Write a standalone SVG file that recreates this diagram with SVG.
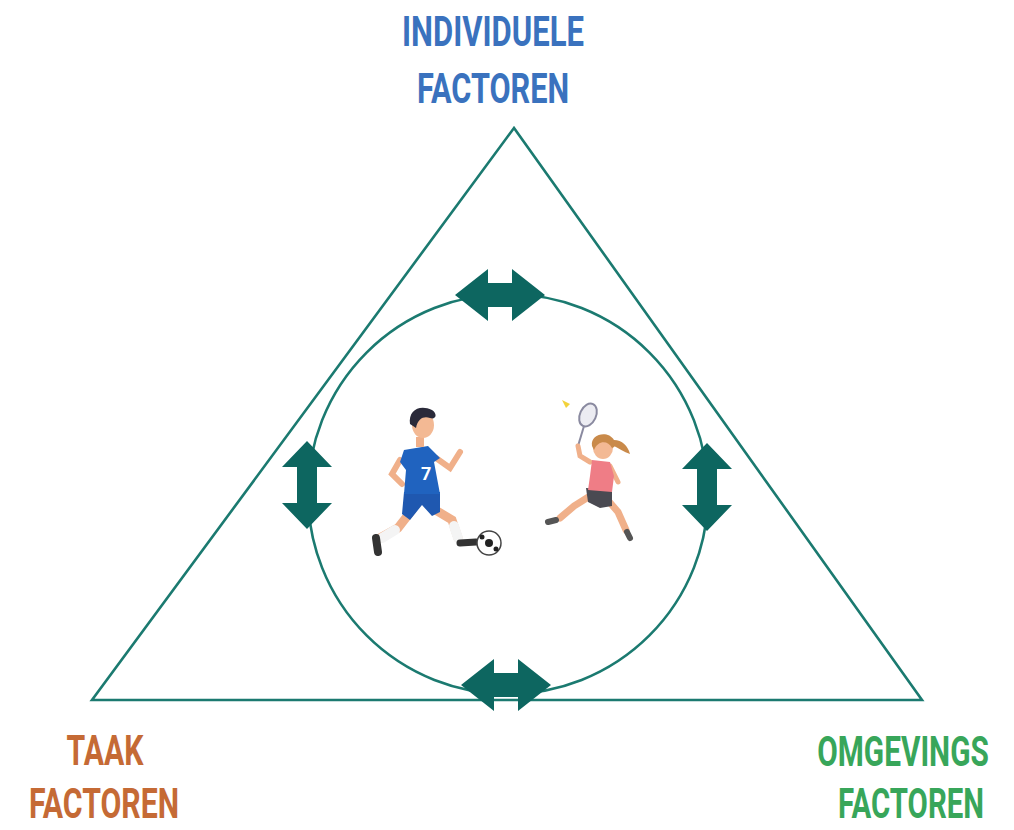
<svg xmlns="http://www.w3.org/2000/svg" width="1014" height="830" viewBox="0 0 1014 830">
  <style>
    .lbl { font-family: Roboto, "Liberation Sans", sans-serif; font-weight: bold; font-size: 42px; text-anchor: middle; }
    .line { fill: none; stroke: #1b7a70; stroke-width: 2.6; }
    .arrow { fill: #0d6660; }
  </style>
  <defs>
    <!-- horizontal double arrow centred on origin -->
    <path id="dblH" d="M-45,0 L-12,-26 L-12,-12 L12,-12 L12,-26 L45,0 L12,26 L12,12 L-12,12 L-12,26 Z"/>
    <!-- vertical double arrow centred on origin -->
    <path id="dblV" d="M0,-44 L25,-18 L10,-18 L10,18 L25,18 L0,44 L-25,18 L-10,18 L-10,-18 L-25,-18 Z"/>
  </defs>
  <rect width="1014" height="830" fill="#ffffff"/>

  <g id="connectors">
    <polygon class="line" points="514,128 92,700 922,700"/>
    <circle class="line" cx="508" cy="494" r="200"/>
    <use href="#dblH" class="arrow" x="500" y="295"/>
    <use href="#dblH" class="arrow" x="506" y="685"/>
    <use href="#dblV" class="arrow" x="307" y="485"/>
    <use href="#dblV" class="arrow" x="707" y="487"/>
  </g>

  <!-- labels use a horizontally condensed bold face -->
  <g id="individuele" fill="#3a72be">
    <text class="lbl" transform="translate(493,46) scale(0.74,1)">INDIVIDUELE</text>
    <text class="lbl" transform="translate(493,103) scale(0.73,1)">FACTOREN</text>
  </g>
  <g id="taak" fill="#c56a35">
    <text class="lbl" transform="translate(105,765) scale(0.72,1)">TAAK</text>
    <text class="lbl" transform="translate(104,818) scale(0.72,1)">FACTOREN</text>
  </g>
  <g id="omgevings" fill="#38a65a">
    <text class="lbl" transform="translate(903,766) scale(0.71,1)">OMGEVINGS</text>
    <text class="lbl" transform="translate(911,818) scale(0.70,1)">FACTOREN</text>
  </g>

  <!-- football player -->
  <g id="voetballer">
    <!-- back leg -->
    <path d="M412,510 L398,528 L380,538" fill="none" stroke="#f0b08a" stroke-width="9" stroke-linecap="round"/>
    <path d="M395,530 L382,538" fill="none" stroke="#f4f4f4" stroke-width="10" stroke-linecap="round"/>
    <path d="M376,538 L378,552" fill="none" stroke="#333" stroke-width="8" stroke-linecap="round"/>
    <!-- front leg -->
    <path d="M432,508 L452,520 L458,538" fill="none" stroke="#f0b08a" stroke-width="9" stroke-linecap="round"/>
    <path d="M454,526 L458,538" fill="none" stroke="#f4f4f4" stroke-width="10" stroke-linecap="round"/>
    <path d="M460,543 L476,542" fill="none" stroke="#333" stroke-width="7" stroke-linecap="round"/>
    <!-- shorts -->
    <path d="M404,492 L440,492 L440,512 L432,516 L422,505 L410,520 L402,514 Z" fill="#1f58b0"/>
    <!-- arms -->
    <path d="M400,460 L392,474 L402,484" fill="none" stroke="#f0b08a" stroke-width="6" stroke-linecap="round"/>
    <path d="M436,458 L450,468 L460,452" fill="none" stroke="#f0b08a" stroke-width="6" stroke-linecap="round"/>
    <!-- shirt -->
    <path d="M404,450 L428,446 L440,458 L434,462 L440,494 L404,494 L406,470 L400,462 Z" fill="#2063bf"/>
    <text x="421" y="480" font-family="Roboto, sans-serif" font-size="18" font-weight="bold" fill="#ffffff">7</text>
    <!-- head -->
    <rect x="416" y="437" width="8" height="10" fill="#f0b08a"/>
    <ellipse cx="423" cy="425" rx="11" ry="13" fill="#f3b994"/>
    <path d="M410,424 C408,410 420,404 432,410 C438,414 436,420 430,418 C424,416 418,418 416,428 Z" fill="#2a2a3a"/>
    <!-- ball -->
    <circle cx="489" cy="543" r="12" fill="#ffffff" stroke="#444" stroke-width="1.5"/>
    <circle cx="489" cy="543" r="4" fill="#222"/>
    <circle cx="482" cy="537" r="2.5" fill="#222"/>
    <circle cx="496" cy="549" r="2.5" fill="#222"/>
  </g>

  <!-- badminton player -->
  <g id="badminton">
    <!-- shuttle -->
    <path d="M562,400 L570,404 L566,408 Z" fill="#f2d23a"/>
    <!-- racket -->
    <ellipse cx="588" cy="415" rx="8" ry="12" transform="rotate(25 588 415)" fill="#ececf2" stroke="#8a8aa0" stroke-width="2"/>
    <path d="M584,426 L578,446" stroke="#8a8aa0" stroke-width="2"/>
    <!-- legs -->
    <path d="M590,496 L574,506 L560,518" fill="none" stroke="#f0b08a" stroke-width="7" stroke-linecap="round"/>
    <path d="M556,520 L548,522" stroke="#555" stroke-width="6" stroke-linecap="round"/>
    <path d="M606,498 L618,512 L626,530" fill="none" stroke="#f0b08a" stroke-width="7" stroke-linecap="round"/>
    <path d="M627,532 L630,538" stroke="#555" stroke-width="6" stroke-linecap="round"/>
    <!-- shorts -->
    <path d="M586,488 L612,490 L612,506 L600,508 L588,502 Z" fill="#4a4a52"/>
    <!-- arms -->
    <path d="M590,462 L580,456 L578,446" fill="none" stroke="#f0b08a" stroke-width="5" stroke-linecap="round"/>
    <path d="M610,466 L618,482" fill="none" stroke="#f0b08a" stroke-width="5" stroke-linecap="round"/>
    <!-- shirt -->
    <path d="M592,460 L610,462 L614,476 L612,492 L588,490 L590,476 Z" fill="#ef7d86"/>
    <!-- head -->
    <ellipse cx="603" cy="448" rx="10" ry="11" fill="#f3b994"/>
    <path d="M592,446 C590,434 608,430 614,440 C618,444 614,448 612,448 C608,440 598,440 594,450 Z" fill="#c98a4a"/>
    <path d="M614,440 C622,440 628,446 630,454 C624,452 618,448 614,446 Z" fill="#c98a4a"/>
  </g>
</svg>
